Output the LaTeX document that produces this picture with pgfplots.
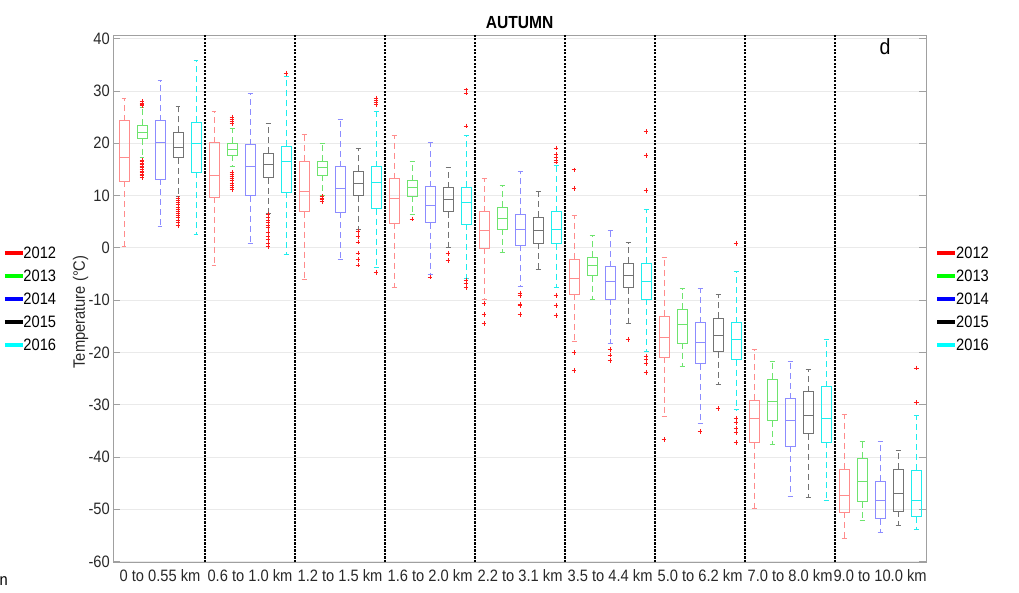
\documentclass[border=0pt]{standalone}
\usepackage{fontspec}
\setmainfont{Liberation Sans}[FakeStretch=0.89]
\usepackage{pgfplots}
\pgfplotsset{compat=1.18}
\usepgfplotslibrary{statistics}

\definecolor{bred}{RGB}{255,140,140}
\definecolor{bgreen}{RGB}{110,228,110}
\definecolor{bblue}{RGB}{140,140,255}
\definecolor{bgray}{RGB}{115,115,115}
\definecolor{bcyan}{RGB}{30,238,238}
\definecolor{outred}{RGB}{255,25,25}
\definecolor{gridgray}{RGB}{234,234,234}
\definecolor{axgray}{RGB}{160,160,160}
\definecolor{labgray}{RGB}{40,40,40}
\definecolor{kred}{RGB}{255,0,0}
\definecolor{kgreen}{RGB}{0,255,0}
\definecolor{kblue}{RGB}{0,0,255}
\definecolor{kblack}{RGB}{0,0,0}
\definecolor{kcyan}{RGB}{0,255,255}

\pgfplotsset{
  bp/.style={line width=0.85pt, mark=+, mark size=2.4pt,
    mark options={draw=outred, solid, line width=0.9pt},
    boxplot/draw direction=y,
    boxplot/box extend=0.11, boxplot/whisker extend=0.055,
    boxplot/every whisker/.style={dash pattern=on 6pt off 4pt},
    boxplot/every box/.style={solid},
    boxplot/every median/.style={solid}},
  yA/.style={bp, draw=bred},
  yB/.style={bp, draw=bgreen},
  yC/.style={bp, draw=bblue},
  yD/.style={bp, draw=bgray},
  yE/.style={bp, draw=bcyan},
  sep/.style={black, line width=2.6pt, dash pattern=on 2.2pt off 1.3pt, forget plot},
}
\newcommand{\bfs}{\fontsize{16.5}{19}\selectfont}

\begin{document}
\begin{tikzpicture}
\useasboundingbox (-113.3pt,-30pt) rectangle (905.7pt,562pt);
\begin{axis}[
  scale only axis, width=812.7pt, height=526.7pt,
  xmin=-0.519, xmax=8.51, ymin=-60.1, ymax=40.65,
  xtick={0,...,8},
  xticklabels={0 to 0.55 km, 0.6 to 1.0 km, 1.2 to 1.5 km, 1.6 to 2.0 km, 2.2 to 3.1 km, 3.5 to 4.4 km, 5.0 to 6.2 km, 7.0 to 8.0 km, 9.0 to 10.0 km},
  x tick style={draw=none},
  ytick={-60,-50,...,40},
  ymajorgrids, grid style={draw=gridgray, line width=0.8pt},
  axis line style={draw=axgray, line width=0.8pt},
  y tick style={draw=axgray, line width=0.8pt},
  tick align=inside, major tick length=7pt,
  ticklabel style={font=\bfs, text=labgray},
  /pgf/number format/assume math mode=true,
  xticklabel style={yshift=-4pt},
]
% 0 to 0.55 km
\addplot[yA, boxplot prepared={draw position=-0.4, lower whisker=0.2, lower quartile=12.7, median=17.3, upper quartile=24.3, upper whisker=28.6}] coordinates {};
\addplot[yB, boxplot prepared={draw position=-0.2, lower whisker=17.2, lower quartile=20.9, median=22.1, upper quartile=23.5, upper whisker=26.9}] coordinates {(0,27.2) (0,27.5) (0,27.7) (0,28.0) (0,16.8) (0,16.5) (0,16.2) (0,15.9) (0,15.6) (0,15.3) (0,15.0) (0,14.7) (0,14.4) (0,14.1) (0,13.8) (0,13.5)};
\addplot[yC, boxplot prepared={draw position=0, lower whisker=4.1, lower quartile=13.1, median=20.1, upper quartile=24.3, upper whisker=32.0}] coordinates {};
\addplot[yD, boxplot prepared={draw position=0.2, lower whisker=9.8, lower quartile=17.2, median=19.2, upper quartile=22.1, upper whisker=27.0}] coordinates {(0,9.4) (0,9.0) (0,8.6) (0,8.2) (0,7.8) (0,7.4) (0,7.0) (0,6.6) (0,6.2) (0,5.8) (0,5.3) (0,4.8) (0,4.3)};
\addplot[yE, boxplot prepared={draw position=0.4, lower whisker=2.5, lower quartile=14.5, median=19.9, upper quartile=24.0, upper whisker=35.8}] coordinates {};
% 0.6 to 1.0 km
\addplot[yA, boxplot prepared={draw position=0.6, lower whisker=-3.3, lower quartile=9.7, median=13.8, upper quartile=20.1, upper whisker=26.1}] coordinates {};
\addplot[yB, boxplot prepared={draw position=0.8, lower whisker=15.5, lower quartile=17.7, median=18.9, upper quartile=20.0, upper whisker=22.8}] coordinates {(0,23.7) (0,24.2) (0,24.6) (0,25.0) (0,14.4) (0,14.0) (0,13.6) (0,13.2) (0,12.8) (0,12.4) (0,12.0) (0,11.6) (0,11.2)};
\addplot[yC, boxplot prepared={draw position=1.0, lower whisker=0.9, lower quartile=10.0, median=15.5, upper quartile=19.7, upper whisker=29.6}] coordinates {};
\addplot[yD, boxplot prepared={draw position=1.2, lower whisker=6.6, lower quartile=13.4, median=15.9, upper quartile=18.1, upper whisker=23.7}] coordinates {(0,6.3) (0,5.8) (0,5.3) (0,4.8) (0,4.3) (0,3.8) (0,3.0) (0,2.2) (0,1.6) (0,0.9) (0,0.2)};
\addplot[yE, boxplot prepared={draw position=1.4, lower whisker=-1.3, lower quartile=10.6, median=16.5, upper quartile=19.4, upper whisker=32.8}] coordinates {(0,33.4)};
% 1.2 to 1.5 km
\addplot[yA, boxplot prepared={draw position=1.6, lower whisker=-6.0, lower quartile=6.9, median=10.8, upper quartile=16.6, upper whisker=21.7}] coordinates {};
\addplot[yB, boxplot prepared={draw position=1.8, lower whisker=10.1, lower quartile=13.9, median=15.4, upper quartile=16.6, upper whisker=20.0}] coordinates {(0,9.8) (0,9.5) (0,9.2) (0,8.9)};
\addplot[yC, boxplot prepared={draw position=2.0, lower whisker=-2.2, lower quartile=6.8, median=11.3, upper quartile=15.5, upper whisker=24.5}] coordinates {};
\addplot[yD, boxplot prepared={draw position=2.2, lower whisker=3.5, lower quartile=10.0, median=12.4, upper quartile=14.6, upper whisker=19.1}] coordinates {(0,3.1) (0,2.2) (0,1.1) (0,-1.0) (0,-2.2) (0,-3.3)};
\addplot[yE, boxplot prepared={draw position=2.4, lower whisker=-3.7, lower quartile=7.5, median=12.6, upper quartile=15.5, upper whisker=26.1}] coordinates {(0,27.4) (0,27.8) (0,28.2) (0,28.6) (0,-4.7)};
% 1.6 to 2.0 km
\addplot[yA, boxplot prepared={draw position=2.6, lower whisker=-7.5, lower quartile=4.7, median=9.5, upper quartile=13.2, upper whisker=21.5}] coordinates {};
\addplot[yB, boxplot prepared={draw position=2.8, lower whisker=6.3, lower quartile=9.9, median=11.5, upper quartile=12.8, upper whisker=16.5}] coordinates {(0,5.5)};
\addplot[yC, boxplot prepared={draw position=3.0, lower whisker=-5.0, lower quartile=4.8, median=8.2, upper quartile=11.7, upper whisker=20.2}] coordinates {(0,-5.6)};
\addplot[yD, boxplot prepared={draw position=3.2, lower whisker=0.1, lower quartile=6.9, median=9.3, upper quartile=11.5, upper whisker=15.4}] coordinates {(0,-1.1) (0,-2.5)};
\addplot[yE, boxplot prepared={draw position=3.4, lower whisker=-5.8, lower quartile=4.5, median=8.7, upper quartile=11.6, upper whisker=21.5}] coordinates {(0,30.2) (0,29.6) (0,23.3) (0,-6.2) (0,-6.8) (0,-7.6)};
% 2.2 to 3.1 km
\addplot[yA, boxplot prepared={draw position=3.6, lower whisker=-9.8, lower quartile=-0.1, median=3.3, upper quartile=6.9, upper whisker=13.2}] coordinates {(0,-10.7) (0,-12.7) (0,-14.5)};
\addplot[yB, boxplot prepared={draw position=3.8, lower whisker=-0.8, lower quartile=3.6, median=5.7, upper quartile=7.8, upper whisker=11.9}] coordinates {};
\addplot[yC, boxplot prepared={draw position=4.0, lower whisker=-7.4, lower quartile=0.5, median=3.6, upper quartile=6.4, upper whisker=14.7}] coordinates {(0,-8.7) (0,-9.1) (0,-10.8) (0,-11.1) (0,-12.7)};
\addplot[yD, boxplot prepared={draw position=4.2, lower whisker=-4.1, lower quartile=0.9, median=3.3, upper quartile=5.9, upper whisker=10.8}] coordinates {};
\addplot[yE, boxplot prepared={draw position=4.4, lower whisker=-7.6, lower quartile=0.8, median=3.6, upper quartile=6.9, upper whisker=15.7}] coordinates {(0,19.1) (0,17.9) (0,17.3) (0,16.8) (0,16.4) (0,-9.1) (0,-11.1) (0,-12.9)};
% 3.5 to 4.4 km
\addplot[yA, boxplot prepared={draw position=4.6, lower whisker=-17.9, lower quartile=-8.9, median=-5.8, upper quartile=-2.2, upper whisker=6.2}] coordinates {(0,14.9) (0,11.4) (0,-20.1) (0,-23.5)};
\addplot[yB, boxplot prepared={draw position=4.8, lower whisker=-9.8, lower quartile=-5.3, median=-3.3, upper quartile=-1.8, upper whisker=2.3}] coordinates {};
\addplot[yC, boxplot prepared={draw position=5.0, lower whisker=-18.2, lower quartile=-9.8, median=-6.4, upper quartile=-3.6, upper whisker=3.3}] coordinates {(0,-19.5) (0,-20.5) (0,-21.5)};
\addplot[yD, boxplot prepared={draw position=5.2, lower whisker=-14.4, lower quartile=-7.6, median=-5.3, upper quartile=-2.9, upper whisker=1.0}] coordinates {(0,-17.5)};
\addplot[yE, boxplot prepared={draw position=5.4, lower whisker=-19.8, lower quartile=-9.8, median=-6.4, upper quartile=-2.9, upper whisker=7.4}] coordinates {(0,22.2) (0,17.6) (0,11.0) (0,-20.7) (0,-21.3) (0,-22.1) (0,-23.8)};
% 5.0 to 6.2 km
\addplot[yA, boxplot prepared={draw position=5.6, lower whisker=-32.2, lower quartile=-20.9, median=-17.1, upper quartile=-13.1, upper whisker=-1.8}] coordinates {(0,-36.7)};
\addplot[yB, boxplot prepared={draw position=5.8, lower whisker=-22.7, lower quartile=-18.2, median=-14.7, upper quartile=-11.7, upper whisker=-7.8}] coordinates {};
\addplot[yC, boxplot prepared={draw position=6.0, lower whisker=-33.5, lower quartile=-22.2, median=-18.1, upper quartile=-14.3, upper whisker=-7.8}] coordinates {(0,-35.1)};
\addplot[yD, boxplot prepared={draw position=6.2, lower whisker=-26.2, lower quartile=-19.9, median=-16.8, upper quartile=-13.5, upper whisker=-9.0}] coordinates {(0,-30.8)};
\addplot[yE, boxplot prepared={draw position=6.4, lower whisker=-31.0, lower quartile=-21.4, median=-17.6, upper quartile=-14.3, upper whisker=-4.5}] coordinates {(0,0.8) (0,-32.6) (0,-33.5) (0,-34.6) (0,-35.4) (0,-37.2)};
% 7.0 to 8.0 km
\addplot[yA, boxplot prepared={draw position=6.6, lower whisker=-49.8, lower quartile=-37.3, median=-32.6, upper quartile=-29.1, upper whisker=-19.5}] coordinates {};
\addplot[yB, boxplot prepared={draw position=6.8, lower whisker=-37.7, lower quartile=-33.1, median=-29.3, upper quartile=-25.1, upper whisker=-21.7}] coordinates {};
\addplot[yC, boxplot prepared={draw position=7.0, lower whisker=-47.6, lower quartile=-37.9, median=-33.1, upper quartile=-28.9, upper whisker=-21.7}] coordinates {};
\addplot[yD, boxplot prepared={draw position=7.2, lower whisker=-47.7, lower quartile=-35.6, median=-32.0, upper quartile=-27.5, upper whisker=-23.3}] coordinates {};
\addplot[yE, boxplot prepared={draw position=7.4, lower whisker=-48.3, lower quartile=-37.2, median=-32.7, upper quartile=-26.6, upper whisker=-17.6}] coordinates {};
% 9.0 to 10.0 km
\addplot[yA, boxplot prepared={draw position=7.6, lower whisker=-55.5, lower quartile=-50.6, median=-47.4, upper quartile=-42.4, upper whisker=-31.9}] coordinates {};
\addplot[yB, boxplot prepared={draw position=7.8, lower whisker=-52.1, lower quartile=-48.6, median=-44.6, upper quartile=-40.3, upper whisker=-37.0}] coordinates {};
\addplot[yC, boxplot prepared={draw position=8.0, lower whisker=-54.5, lower quartile=-51.8, median=-48.4, upper quartile=-44.7, upper whisker=-37.1}] coordinates {};
\addplot[yD, boxplot prepared={draw position=8.2, lower whisker=-53.1, lower quartile=-50.4, median=-46.9, upper quartile=-42.4, upper whisker=-38.8}] coordinates {};
\addplot[yE, boxplot prepared={draw position=8.4, lower whisker=-53.9, lower quartile=-51.4, median=-48.4, upper quartile=-42.5, upper whisker=-32.1}] coordinates {(0,-23.0) (0,-29.6)};
% altitude band separators
\addplot[sep] coordinates {(0.5,-60.1) (0.5,40.65)};
\addplot[sep] coordinates {(1.5,-60.1) (1.5,40.65)};
\addplot[sep] coordinates {(2.5,-60.1) (2.5,40.65)};
\addplot[sep] coordinates {(3.5,-60.1) (3.5,40.65)};
\addplot[sep] coordinates {(4.5,-60.1) (4.5,40.65)};
\addplot[sep] coordinates {(5.5,-60.1) (5.5,40.65)};
\addplot[sep] coordinates {(6.5,-60.1) (6.5,40.65)};
\addplot[sep] coordinates {(7.5,-60.1) (7.5,40.65)};
\end{axis}
% title, axis label and panel letter
\node[anchor=base, font=\fontsize{17.5}{20}\selectfont\bfseries] at (406.3pt,533.3pt) {AUTUMN};
\node[anchor=base, rotate=90, font=\bfs, text=labgray] at (-28.3pt,250pt) {Temperature (°C)};
\node[anchor=base, font=\fontsize{22}{26}\selectfont] at (771.7pt,507pt) {d};
\node[anchor=base west, inner sep=0pt, font=\bfs] at (-113.8pt,-23pt) {n};
% year keys on both sides
\foreach \c/\t/\yy in {kred/2012/309, kgreen/2013/286, kblue/2014/263, kblack/2015/240, kcyan/2016/217}{
  \draw[\c, line width=3.3pt] (-108.3pt,\yy pt) -- (-90.6pt,\yy pt);
  \node[anchor=west, inner sep=0pt, font=\bfs] at (-90pt,\yy pt) {\t};
  \draw[\c, line width=3.3pt] (823.7pt,\yy pt) -- (841.7pt,\yy pt);
  \node[anchor=west, inner sep=0pt, font=\bfs] at (842.7pt,\yy pt) {\t};
}
\end{tikzpicture}
\end{document}
